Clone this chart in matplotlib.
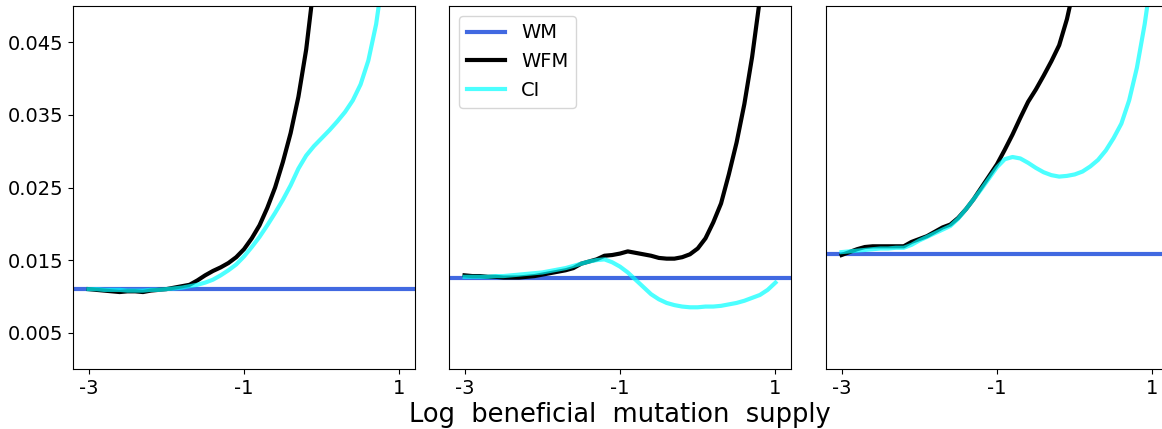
import numpy as np
import matplotlib
matplotlib.use("Agg")
import matplotlib.pyplot as plt

# log beneficial mutation supply, -3 .. 1 in steps of 0.1
x = np.round(np.arange(-3.0, 1.0001, 0.1), 1)

# constant WM level per panel
wm = [0.0110, 0.0126, 0.0159]

wfm_1 = [0.0110, 0.0109, 0.0108, 0.0107, 0.0106, 0.0107, 0.0107, 0.0106, 0.0108, 0.0109,
         0.0110, 0.0112, 0.0114, 0.0116, 0.0122, 0.0129, 0.0135, 0.0140, 0.0146, 0.0154,
         0.0165, 0.0180, 0.0198, 0.0222, 0.0250, 0.0285, 0.0325, 0.0375, 0.0440, 0.0530,
         0.065, 0.080, 0.100, 0.120, 0.150, 0.180, 0.220, 0.270, 0.330, 0.400, 0.480]
ci_1 = [0.0110, 0.0110, 0.0109, 0.0109, 0.0109, 0.0108, 0.0108, 0.0108, 0.0109, 0.0109,
        0.0110, 0.0111, 0.0112, 0.0114, 0.0116, 0.0119, 0.0123, 0.0129, 0.0136, 0.0144,
        0.0155, 0.0168, 0.0182, 0.0198, 0.0215, 0.0233, 0.0253, 0.0276, 0.0294, 0.0307,
        0.0318, 0.0329, 0.0341, 0.0354, 0.0370, 0.0392, 0.0425, 0.0475, 0.0550, 0.065, 0.078]

wfm_2 = [0.0129, 0.0128, 0.0128, 0.0127, 0.0127, 0.0126, 0.0126, 0.0126, 0.0127, 0.0128,
         0.0130, 0.0132, 0.0134, 0.0136, 0.0139, 0.0145, 0.0148, 0.0151, 0.0156, 0.0157,
         0.0159, 0.0162, 0.0160, 0.0158, 0.0156, 0.0153, 0.0152, 0.0152, 0.0154, 0.0158,
         0.0166, 0.0180, 0.0202, 0.0228, 0.0268, 0.0312, 0.0365, 0.0430, 0.0510, 0.062, 0.075]
ci_2 = [0.0127, 0.0127, 0.0127, 0.0127, 0.0128, 0.0128, 0.0129, 0.0130, 0.0131, 0.0132,
        0.0133, 0.0135, 0.0137, 0.0139, 0.0142, 0.0145, 0.0148, 0.0150, 0.0151, 0.0147,
        0.0141, 0.0133, 0.0123, 0.0113, 0.0103, 0.0096, 0.0091, 0.0088, 0.0086, 0.0085,
        0.0085, 0.0086, 0.0086, 0.0087, 0.0089, 0.0091, 0.0094, 0.0098, 0.0102, 0.0109, 0.0119]

wfm_3 = [0.0157, 0.0161, 0.0165, 0.0168, 0.0169, 0.0169, 0.0169, 0.0169, 0.0169, 0.0175,
         0.0179, 0.0183, 0.0189, 0.0195, 0.0199, 0.0208, 0.0220, 0.0234, 0.0250, 0.0266,
         0.0282, 0.0302, 0.0323, 0.0346, 0.0368, 0.0385, 0.0404, 0.0424, 0.0446, 0.0482,
         0.053, 0.058, 0.064, 0.071, 0.079, 0.088, 0.098, 0.110, 0.120, 0.135, 0.150]
ci_3 = [0.0161, 0.0162, 0.0163, 0.0164, 0.0165, 0.0166, 0.0166, 0.0167, 0.0167, 0.0171,
        0.0177, 0.0182, 0.0187, 0.0192, 0.0197, 0.0207, 0.0220, 0.0234, 0.0248, 0.0263,
        0.0278, 0.0289, 0.0292, 0.0290, 0.0284, 0.0277, 0.0271, 0.0267, 0.0265, 0.0266,
        0.0268, 0.0272, 0.0279, 0.0288, 0.0301, 0.0318, 0.0338, 0.0370, 0.0415, 0.0475, 0.055]

wfm = [wfm_1, wfm_2, wfm_3]
ci = [ci_1, ci_2, ci_3]

xticks = [-3, -1, 1]
yticks = [0.005, 0.015, 0.025, 0.035, 0.045]

fig = plt.figure(figsize=(11.62, 4.29), dpi=100)
W, H = 1162, 429
lefts = [73, 449, 826]
axes = []
for i, l in enumerate(lefts):
    ax = fig.add_axes([l / W, 1 - 369 / H, 342 / W, 363 / H],
                      sharey=axes[0] if axes else None)
    axes.append(ax)
    ax.axhline(wm[i], color='royalblue', lw=3, label='WM')
    ax.plot(x, wfm[i], color='black', lw=3, label='WFM')
    ax.plot(x, ci[i], color='cyan', alpha=0.7, lw=3, label='CI')
    ax.set_xlim(-3.2, 1.2)
    ax.set_ylim(0, 0.05)
    ax.set_xticks(xticks)
    ax.set_xticklabels([str(t) for t in xticks])
    ax.tick_params(labelsize=14)
    if i == 0:
        ax.set_yticks(yticks)
        ax.set_yticklabels([f"{t:.3f}" for t in yticks])
    else:
        ax.tick_params(left=False, labelleft=False)

axes[1].legend(loc='upper left', fontsize=14)
axes[1].set_xlabel("Log  beneficial  mutation  supply", fontsize=18.5, labelpad=3)

fig.savefig("out.png", dpi=100)
